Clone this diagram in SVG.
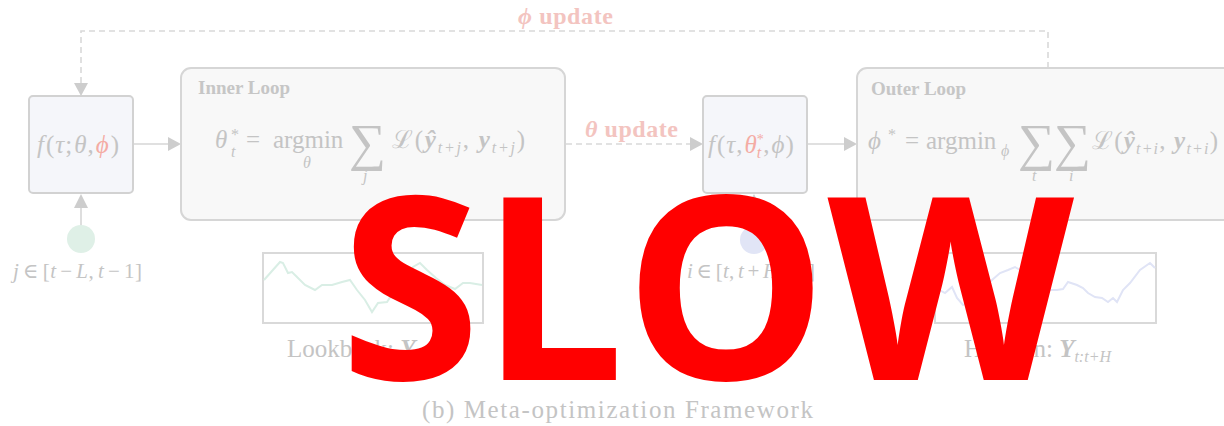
<svg xmlns="http://www.w3.org/2000/svg" width="1224" height="426" viewBox="0 0 1224 426">
  <style>
    .box { fill: #f8f8f8; stroke: #d6d6d6; stroke-width: 2; }
    .node { fill: #f5f6fa; stroke: #d2d2d2; stroke-width: 2; }
    .plot { fill: #ffffff; stroke: #d9d9d9; stroke-width: 2; }
    .m { font-family: "Liberation Serif", "DejaVu Serif", serif; fill: #c4c4c4; font-size: 25px; }
    .i { font-style: italic; }
    .b { font-weight: bold; font-style: italic; }
    .sub { font-size: 16px; font-style: italic; }
    .sum { font-size: 52px; }
    .idx { font-size: 21px; word-spacing: -2px; }
    .title { font-family: "Liberation Serif", "DejaVu Serif", serif; font-weight: bold; font-size: 19px; fill: #c6c6c6; }
    .upd { font-family: "Liberation Serif", "DejaVu Serif", serif; font-weight: bold; font-size: 24px; fill: #f3c4c0; }
    .red { fill: #f4aca4; }
    .link { fill: none; stroke: #d6d6d6; stroke-width: 1.6; }
    .dash { fill: none; stroke: #d9d9d9; stroke-width: 1.6; stroke-dasharray: 6 4; }
    .head { fill: #cdcdcd; }
  </style>

  <!-- connectors -->
  <g id="connectors">
    <!-- phi update loop -->
    <path class="dash" d="M1048 68 V31 H81 V84"/>
    <polygon class="head" points="74,83 88,83 81,96"/>
    <!-- node 1 to inner loop -->
    <line class="link" x1="133" y1="144" x2="169" y2="144"/>
    <polygon class="head" points="168,137 181,144 168,151"/>
    <!-- inner loop to node 2 (theta update) -->
    <line class="dash" x1="566" y1="144" x2="691" y2="144" stroke-dasharray="4 3"/>
    <polygon class="head" points="690,137 703,144 690,151"/>
    <!-- node 2 to outer loop -->
    <line class="link" x1="807" y1="144" x2="845" y2="144"/>
    <polygon class="head" points="844,137 857,144 844,151"/>
    <!-- samples into models -->
    <line class="link" x1="81" y1="226" x2="81" y2="207"/>
    <polygon class="head" points="74,208 88,208 81,194"/>
    <line class="link" x1="754" y1="226" x2="754" y2="207"/>
    <polygon class="head" points="747,208 761,208 754,194"/>
  </g>

  <!-- update labels -->
  <g id="label-phi-update">
    <text class="upd" x="518" y="24" textLength="95"><tspan font-style="italic">ϕ</tspan> update</text>
  </g>
  <g id="label-theta-update">
    <text class="upd" x="585" y="137" textLength="93"><tspan font-style="italic">θ</tspan> update</text>
  </g>

  <!-- model with meta parameters -->
  <g id="node-model-inner">
    <rect class="node" x="29" y="96" width="104" height="97" rx="4"/>
    <text class="m" x="37" y="153" font-size="22"><tspan class="i">f</tspan><tspan dx="2">(</tspan><tspan class="i" dx="1">τ</tspan><tspan dx="1">;</tspan><tspan class="i" dx="2">θ</tspan><tspan dx="1">,</tspan><tspan class="i red" dx="2">ϕ</tspan><tspan dx="2">)</tspan></text>
  </g>

  <!-- inner optimisation loop -->
  <g id="node-inner-loop">
    <rect class="box" x="181" y="68" width="384" height="152" rx="10"/>
    <text class="title" x="198" y="94">Inner Loop</text>
    <text class="m">
      <tspan class="i" x="215" y="148">θ</tspan>
      <tspan font-size="16" x="231" y="140">*</tspan>
      <tspan class="sub" x="231" y="157">t</tspan>
      <tspan x="246" y="148">=</tspan>
      <tspan x="273" y="148">argmin</tspan>
      <tspan class="sub" x="303" y="168">θ</tspan>
      <tspan class="sum" x="349" y="160">∑</tspan>
      <tspan class="sub" x="363" y="181">j</tspan>
    </text>
    <text class="m" x="392" y="148" textLength="133">ℒ(<tspan class="b">ŷ</tspan><tspan class="sub" dy="5">t+j</tspan><tspan dy="-5">, </tspan><tspan class="b">y</tspan><tspan class="sub" dy="5">t+j</tspan><tspan dy="-5">)</tspan></text>
  </g>

  <!-- model with adapted parameters -->
  <g id="node-model-outer">
    <rect class="node" x="703" y="96" width="104" height="97" rx="4"/>
    <text class="m" x="708" y="153" font-size="22"><tspan class="i">f</tspan><tspan dx="2">(</tspan><tspan class="i" dx="1">τ</tspan><tspan dx="1">,</tspan><tspan class="i red" dx="2">θ</tspan><tspan class="red" font-size="14" dy="-9">*</tspan><tspan class="red sub" font-size="14" dx="-7" dy="14">t</tspan><tspan dy="-5" dx="2">,</tspan><tspan class="i" dx="2">ϕ</tspan><tspan dx="1">)</tspan></text>
  </g>

  <!-- outer optimisation loop -->
  <g id="node-outer-loop">
    <rect class="box" x="857" y="68" width="400" height="152" rx="10"/>
    <text class="title" x="871" y="95">Outer Loop</text>
    <text class="m">
      <tspan class="i" x="868" y="149">ϕ</tspan>
      <tspan font-size="16" x="888" y="140">*</tspan>
      <tspan x="905" y="149">=</tspan>
      <tspan x="926" y="149">argmin</tspan>
      <tspan class="sub" x="1001" y="156">ϕ</tspan>
      <tspan class="sum" x="1018" y="160">∑</tspan>
      <tspan class="sub" x="1032" y="181">t</tspan>
      <tspan class="sum" x="1054" y="160">∑</tspan>
      <tspan class="sub" x="1069" y="181">i</tspan>
    </text>
    <text class="m" x="1092" y="149" textLength="126">ℒ(<tspan class="b">ŷ</tspan><tspan class="sub" dy="5">t+i</tspan><tspan dy="-5">, </tspan><tspan class="b">y</tspan><tspan class="sub" dy="5">t+i</tspan><tspan dy="-5">)</tspan></text>
  </g>

  <!-- lookback sample index -->
  <g id="node-lookback-index">
    <circle cx="81" cy="239" r="14" fill="#dff0e7"/>
    <text class="m idx" x="13" y="278" textLength="129"><tspan class="i">j</tspan> ∈ [<tspan class="i">t</tspan> − <tspan class="i">L</tspan>, <tspan class="i">t</tspan> − 1]</text>
  </g>

  <!-- horizon sample index -->
  <g id="node-horizon-index">
    <circle cx="754" cy="240" r="14" fill="#e1e5f6"/>
    <text class="m idx" x="687" y="278" textLength="128"><tspan class="i">i</tspan> ∈ [<tspan class="i">t</tspan>, <tspan class="i">t</tspan> + <tspan class="i">H</tspan> − 1]</text>
  </g>

  <!-- lookback window plot -->
  <g id="node-lookback-plot">
    <rect class="plot" x="263" y="253" width="220" height="70"/>
    <polyline fill="none" stroke="#d9eee5" stroke-width="2" points="264,280 280,262 283,263 288,273 292,272 297,277 305,285 315,290 322,285 332,285 342,282 350,280 357,290 365,300 372,312 378,303 387,302 393,293 403,283 413,267 420,263 427,270 436,278 445,285 455,289 463,283 470,283 482,285"/>
    <text class="m" x="287" y="357">Lookback: <tspan class="b">Y</tspan><tspan class="sub" dy="5">t−L:t</tspan></text>
  </g>

  <!-- horizon window plot -->
  <g id="node-horizon-plot">
    <rect class="plot" x="935" y="253" width="221" height="70"/>
    <polyline fill="none" stroke="#e0e4f6" stroke-width="2" points="936,288 945,293 952,287 957,298 963,305 972,300 982,290 992,280 1000,273 1008,270 1015,267 1020,270 1030,280 1040,288 1047,290 1057,290 1063,289 1068,282 1077,285 1083,288 1088,293 1095,297 1102,298 1108,302 1113,298 1117,302 1123,290 1130,283 1140,270 1150,263 1155,268"/>
    <text class="m" x="964" y="357">Horizon: <tspan class="b">Y</tspan><tspan class="sub" dy="5">t:t+H</tspan></text>
  </g>

  <!-- caption -->
  <text class="m" x="422" y="418" font-size="27" textLength="391" fill="#c8c8c8">(b) Meta-optimization Framework</text>

  <!-- overlay stamp -->
  <text x="707" y="380" text-anchor="middle" font-family="Open Sans, sans-serif" font-weight="bold" font-size="255" fill="#ff0000">SLOW</text>
</svg>
